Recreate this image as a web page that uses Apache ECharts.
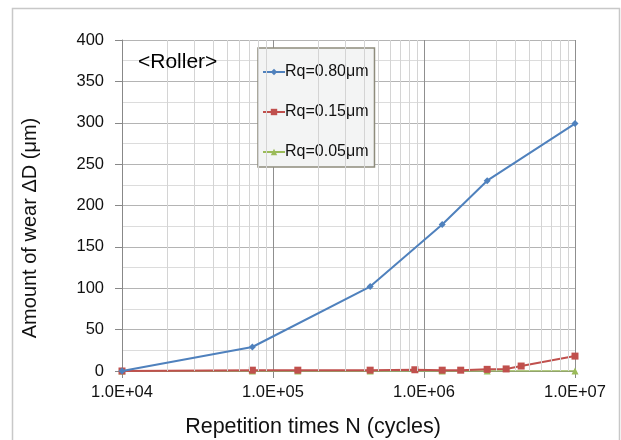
<!DOCTYPE html>
<html>
<head>
<meta charset="utf-8">
<script src="https://cdn.jsdelivr.net/npm/echarts@6/dist/echarts.min.js"></script>
<style>html,body{margin:0;padding:0;background:#fff}#c{width:621px;height:440px}</style>
</head>
<body>
<div id="c"></div>
<script>
// ---- data ----
const seriesNames = ['Rq=0.80μm', 'Rq=0.15μm', 'Rq=0.05μm'];
const blueX = [1e4, 7.3e4, 4.4e5, 1.32e6, 2.62e6, 1e7];
const blueY = [0, 29, 102, 177, 230, 299];
const redX = [1e4, 7.3e4, 1.46e5, 4.4e5, 8.7e5, 1.32e6, 1.75e6, 2.62e6, 3.5e6, 4.4e6, 1e7];
const redY = [0, 1, 1, 1, 1.5, 1, 1, 2, 2.5, 6, 18];
const greenX = [1e4, 7.3e4, 1.46e5, 4.4e5, 1.32e6, 2.62e6, 1e7];
const greenY = [0, 0, 0, 0, 0, 0, 0];
const yTicks = [0, 50, 100, 150, 200, 250, 300, 350, 400];
const xDecades = [1e4, 1e5, 1e6, 1e7];
const annotation = '<Roller>';
const xTitle = 'Repetition times N (cycles)';
const yTitle = 'Amount of wear ΔD (μm)';

// minor log grid positions (2..9 within each decade)
const minorX = [];
for (let d = 0; d < xDecades.length - 1; d++) {
  for (let k = 2; k <= 9; k++) minorX.push(k * xDecades[d]);
}

const zip = (xs, ys) => xs.map((x, i) => [x, ys[i]]);
const FONT = 'Liberation Sans, Arial, sans-serif';

const chart = echarts.init(document.getElementById('c'), null, {renderer: 'canvas'});
chart.setOption({
  animation: false,
  backgroundColor: '#ffffff',
  textStyle: {fontFamily: FONT},
  grid: {left: 122, right: 46, top: 40, bottom: 69, containLabel: false},
  graphic: [
    {type: 'rect', shape: {x: 12.5, y: 8.5, width: 607, height: 440}, style: {fill: 'none', stroke: '#c8c8c8', lineWidth: 1.5}, z: 0},
    {type: 'text', left: 138, top: 52, style: {text: annotation, fontSize: 21, fill: '#000', fontFamily: FONT}, z: 10},
    {type: 'text', x: 313, y: 427, style: {text: xTitle, fontSize: 21.5, fill: '#111', fontFamily: FONT, align: 'center', verticalAlign: 'middle'}, z: 10},
    {type: 'text', x: 30, y: 228, rotation: Math.PI / 2, style: {text: yTitle, fontSize: 20, fill: '#111', fontFamily: FONT, align: 'center', verticalAlign: 'middle'}, z: 10}
  ],
  legend: {
    data: seriesNames,
    orient: 'vertical',
    left: 258, top: 48,
    width: 116,
    padding: [16, 6, 7, 4],
    itemGap: 24,
    itemWidth: 22, itemHeight: 8,
    backgroundColor: '#f3f4f4',
    borderColor: '#8e8c7c',
    borderWidth: 1.5,
    textStyle: {fontSize: 16, color: '#111', fontFamily: FONT, padding: [0, 0, 0, -5]}
  },
  xAxis: {
    type: 'log', logBase: 10, min: 1e4, max: 1e7,
    axisLine: {show: true, onZero: false, lineStyle: {color: '#888', width: 1}},
    axisTick: {show: true, length: 7, lineStyle: {color: '#888'}},
    axisLabel: {fontSize: 16.5, color: '#111', margin: 13, fontFamily: FONT,
      formatter: v => { const e = Math.round(Math.log10(v)); return '1.0E+' + (e < 10 ? '0' : '') + e; }},
    splitLine: {show: true, lineStyle: {color: '#8f8f8f', width: 1}}
  },
  yAxis: {
    type: 'value', min: yTicks[0], max: yTicks[yTicks.length - 1], interval: yTicks[1] - yTicks[0],
    axisLine: {show: true, lineStyle: {color: '#888', width: 1}},
    axisTick: {show: true, length: 7, lineStyle: {color: '#888'}},
    axisLabel: {fontSize: 16.5, color: '#111', margin: 18, fontFamily: FONT},
    splitLine: {show: true, lineStyle: {color: '#b4b4b4', width: 1}},
    minorTick: {show: false, splitNumber: 2},
    minorSplitLine: {show: true, lineStyle: {color: '#dcdcdc', width: 1}}
  },
  series: [
    {
      name: '__minorgrid', type: 'line', data: [], z: 1, silent: true,
      markLine: {
        silent: true, symbol: ['none', 'none'], animation: false,
        label: {show: false},
        lineStyle: {color: '#d4d4d4', width: 1, type: 'solid'},
        data: minorX.map(v => ({xAxis: v}))
      }
    },
    {
      name: seriesNames[0], type: 'line', data: zip(blueX, blueY), z: 5,
      symbol: 'diamond', symbolSize: 7,
      lineStyle: {color: '#4f81bd', width: 2}, itemStyle: {color: '#4f81bd'}
    },
    {
      name: seriesNames[1], type: 'line', data: zip(redX, redY), z: 4,
      symbol: 'rect', symbolSize: 7,
      lineStyle: {color: '#c0504d', width: 2}, itemStyle: {color: '#c0504d'}
    },
    {
      name: seriesNames[2], type: 'line', data: zip(greenX, greenY), z: 3,
      symbol: 'triangle', symbolSize: 7,
      lineStyle: {color: '#9bbb59', width: 1.5}, itemStyle: {color: '#9bbb59'}
    }
  ]
});
</script>
</body>
</html>
